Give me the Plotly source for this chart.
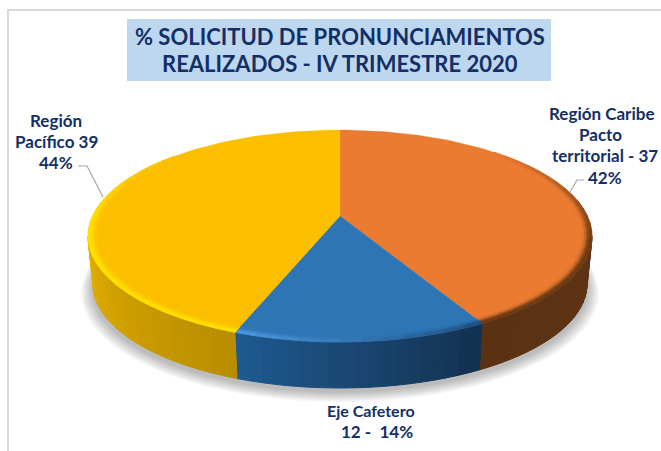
import math
import plotly.graph_objects as go

categories = ["Región Caribe Pacto territorial", "Eje Cafetero", "Región Pacífico"]
values = [37, 12, 39]
face_colors = ["#EB7B30", "#2E75B6", "#FCBF00"]
title_lines = ["% SOLICITUD DE PRONUNCIAMIENTOS", "REALIZADOS - IV TRIMESTRE 2020"]
label_caribe = ["Región Caribe", "Pacto", "territorial - 37", "42%"]
label_pacifico = ["Región", "Pacífico 39", "44%"]
label_eje = ["Eje Cafetero", "12 -  14%"]

W, H = 661, 451
NAVY = "#132F66"
CX, CY, RX, RY, K = 340.0, 216.0, 247.5, 102.2, 0.189
DEPTH, SHRINK = 48.5, 0.98


def top(deg, r=1.0):
    a = math.radians(deg)
    u, v = r * math.sin(a), r * math.cos(a)
    w = 1 + K * v
    return CX + RX * u / w, CY - RY * v / w


def bottom(deg, s=SHRINK, dy=DEPTH):
    a = math.radians(deg)
    u, v = math.sin(a), math.cos(a)
    w = 1 + K * v
    return CX + s * RX * u / w, CY + dy - s * RY * v / w


def hex2rgb(h):
    return tuple(int(h[i:i + 2], 16) for i in (1, 3, 5))


def mix(a, b, t):
    t = max(0.0, min(1.0, t))
    ca, cb = hex2rgb(a), hex2rgb(b)
    return "rgb(%d,%d,%d)" % tuple(round(x + (y - x) * t) for x, y in zip(ca, cb))


def to_hex(c):
    n = c[4:-1].split(",")
    return "#%02x%02x%02x" % tuple(int(x) for x in n)


fig = go.Figure()


def poly(pts, color, lw=1.0):
    xs = [p[0] for p in pts] + [pts[0][0]]
    ys = [p[1] for p in pts] + [pts[0][1]]
    fig.add_trace(go.Scatter(x=xs, y=ys, mode="lines", fill="toself", fillcolor=color,
                             line=dict(color=color, width=lw), hoverinfo="skip", showlegend=False))


total = sum(values)
bounds = [0.0]
for val in values:
    bounds.append(bounds[-1] + val / total * 360)

# soft shadow under the pie
for i in range(8):
    s = 0.985 + 0.006 * i
    dy = DEPTH + 4 + 0.6 * i
    pts = [bottom(d, s, dy) for d in range(0, 361, 3)]
    xs = [p[0] for p in pts]
    ys = [p[1] for p in pts]
    fig.add_trace(go.Scatter(x=xs, y=ys, mode="lines", fill="toself",
                             fillcolor="rgba(0,0,0,0.035)", line=dict(width=0),
                             hoverinfo="skip", showlegend=False))

# side walls
SIL0, SIL1 = 100.9, 259.1
side_ramps = [("#5F3415", "#5A3113"), ("#13304F", "#1F5A90"), ("#B88C00", "#E3B000")]
for i in range(3):
    a0, a1 = max(bounds[i], SIL0), min(bounds[i + 1], SIL1)
    n = max(2, int((a1 - a0) / 2.5))
    for j in range(n):
        d0 = a0 + (a1 - a0) * j / n
        d1 = a0 + (a1 - a0) * (j + 1) / n
        c = mix(side_ramps[i][0], side_ramps[i][1], (j + 0.5) / n)
        pts = [top(d0), top(d1), bottom(d1), bottom(d0)]
        poly(pts, c)

# top faces
for i in range(3):
    a0, a1 = bounds[i], bounds[i + 1]
    n = int((a1 - a0) / 2) + 1
    arc = [top(a0 + (a1 - a0) * j / n) for j in range(n + 1)]
    poly([(CX, CY)] + arc, face_colors[i], 0.3)


def edge_style(i, d):
    if i == 0:
        return "#6B3A14", min(1.0, max(0.0, (d - 45) / 60))
    if i == 1:
        t = (d - bounds[1]) / (bounds[2] - bounds[1])
        return to_hex(mix("#1C4D7E", "#4C9BE2", t)), 1.0
    strength = 1.0 if d < 265 else max(0.0, (310 - d) / 45)
    return "#FFE000", strength


# bevel around the rim
radii = [0.962, 0.972, 0.981, 0.99, 1.0]
weights = [0.08, 0.35, 0.8, 1.0]
for i in range(3):
    a0, a1 = bounds[i], bounds[i + 1]
    n = max(3, int((a1 - a0) / 4))
    for j in range(n):
        d0 = a0 + (a1 - a0) * j / n
        d1 = a0 + (a1 - a0) * (j + 1) / n
        dm = (d0 + d1) / 2
        edge, strength = edge_style(i, dm)
        if strength <= 0:
            continue
        for b in range(4):
            c = mix(face_colors[i], edge, weights[b] * strength)
            pts = [top(d0, radii[b]), top(d1, radii[b]), top(d1, radii[b + 1]), top(d0, radii[b + 1])]
            poly(pts, c, 0.8)

# leader lines
for lx, ly in (([78, 87, 103], [166, 166, 197]), ([584, 577, 570], [180, 180, 192])):
    fig.add_trace(go.Scatter(x=lx, y=ly, mode="lines", line=dict(color="#A6A6A6", width=1.2),
                             hoverinfo="skip", showlegend=False))

annotations = []


def txt(s, x, y, size):
    annotations.append(dict(text=s, x=x, y=y, xref="x", yref="y", showarrow=False,
                            xanchor="center", yanchor="middle",
                            font=dict(family="Lato", size=size, color=NAVY, weight="bold")))


txt(title_lines[0], 340, 36, 22)
txt(title_lines[1], 340, 63, 22)
for s, x, y in zip(label_caribe, [601, 600, 605, 605], [113, 134, 155, 177]):
    txt(s, x, y, 17)
for s, y in zip(label_pacifico, [120, 141, 162]):
    txt(s, 56, y, 17)
txt(label_eje[0], 371, 410, 16)
txt(label_eje[1], 377, 431, 17)

fig.update_layout(
    width=W, height=H, autosize=False,
    margin=dict(l=0, r=0, t=0, b=0),
    paper_bgcolor="white", plot_bgcolor="white", showlegend=False,
    xaxis=dict(range=[0, W], visible=False, fixedrange=True),
    yaxis=dict(range=[H, 0], visible=False, fixedrange=True),
    annotations=annotations,
    shapes=[
        dict(type="rect", x0=8, y0=10, x1=W + 5, y1=H + 5, line=dict(color="#D9D9D9", width=2),
             fillcolor="white", layer="below"),
        dict(type="rect", x0=127, y0=19, x1=551, y1=81, line=dict(width=0),
             fillcolor="#BDD7EE", layer="below"),
    ],
)
fig.write_html("out.html", config={"displayModeBar": False},
               post_script="document.body.style.margin='0';document.body.style.overflow='hidden';")
